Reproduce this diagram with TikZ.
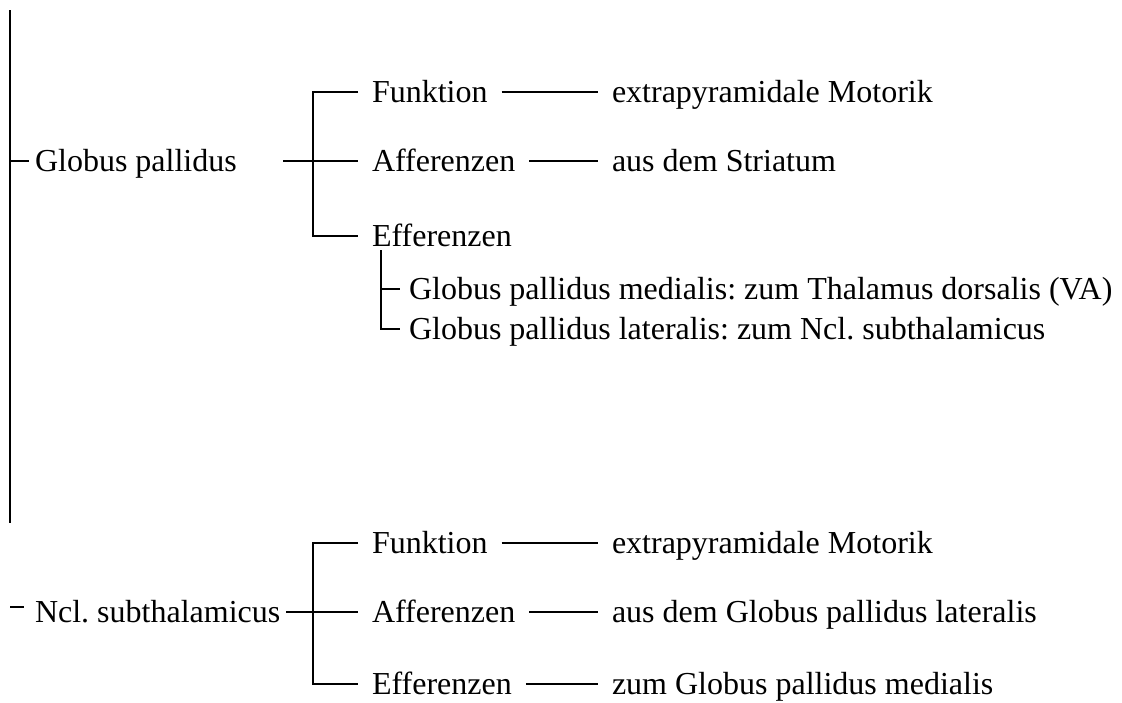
\documentclass[tikz,border=0pt]{standalone}
\usepackage{fontspec}
\setmainfont{Liberation Serif}
\frenchspacing

\begin{document}
\begin{tikzpicture}[x=0.5pt,y=-0.5pt,line width=0.8pt,
  every node/.style={font=\fontsize{16}{19}\selectfont,text height=12pt,text depth=2pt,inner ysep=0pt,outer sep=0pt},
  top/.style={anchor=west,inner xsep=3pt},
  item/.style={anchor=west,inner xsep=7pt},
  sub/.style={anchor=west,inner xsep=4.5pt}]
\useasboundingbox (0,0) rectangle (1122,702);
% Globus pallidus
\node[top] (gp) at (29,161) {Globus pallidus};
\node[item] (f1) at (358,92) {Funktion};
\node[item] (a1) at (358,161) {Afferenzen};
\node[item] (e1) at (358,236) {Efferenzen};
\node[item] (fv1) at (598,92) {extrapyramidale Motorik};
\node[item] (av1) at (598,161) {aus dem Striatum};
\node[sub] (m1) at (400,289) {Globus pallidus medialis: zum Thalamus dorsalis (VA)};
\node[sub] (l1) at (400,329) {Globus pallidus lateralis: zum Ncl. subthalamicus};
\coordinate (t0) at (10,10); \coordinate (t1) at (10,523);
\coordinate (j1) at (283,161); \coordinate (b1) at (313,161);
\draw (t0) -- (t1) (t0 |- gp.west) -- (gp.west);
\draw (j1) -- (a1.west) (f1.west) -| (b1) |- (e1.west);
\draw (f1) -- (fv1) (a1) -- (av1);
\draw ([xshift=11.5pt]e1.south west) |- (m1.west) ([xshift=11.5pt]e1.south west) |- (l1.west);
% Ncl. subthalamicus
\node[top] (ns) at (29,612) {Ncl. subthalamicus};
\node[item] (f2) at (358,543) {Funktion};
\node[item] (a2) at (358,612) {Afferenzen};
\node[item] (e2) at (358,684) {Efferenzen};
\node[item] (fv2) at (598,543) {extrapyramidale Motorik};
\node[item] (av2) at (598,612) {aus dem Globus pallidus lateralis};
\node[item] (ev2) at (598,684) {zum Globus pallidus medialis};
\coordinate (d0) at (10,607); \coordinate (d1) at (24,607);
\coordinate (b2) at (313,612);
\draw (d0) -- (d1);
\draw (ns) -- (a2) (f2.west) -| (b2) |- (e2.west);
\draw (f2) -- (fv2) (a2) -- (av2) (e2) -- (ev2);
\end{tikzpicture}
\end{document}
